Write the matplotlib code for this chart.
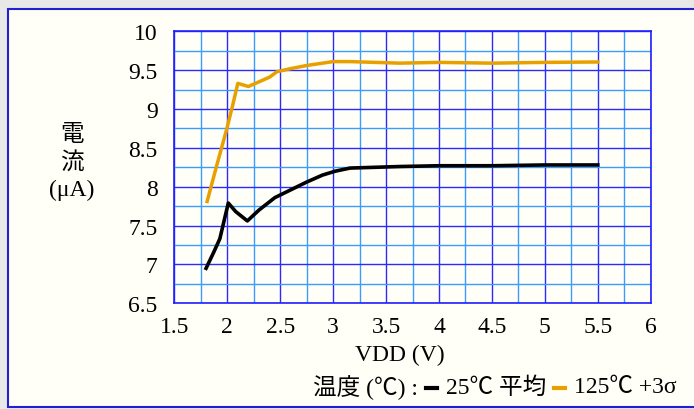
import matplotlib
matplotlib.use("Agg")
import matplotlib.pyplot as plt
from matplotlib.patches import Rectangle
from matplotlib.lines import Line2D
from matplotlib.offsetbox import TextArea, DrawingArea, HPacker, AnchoredOffsetbox

plt.rcParams['font.family'] = ['Liberation Serif', 'Noto Sans CJK JP', 'DejaVu Sans']

# data
vdd_25 = [1.80, 1.87, 1.93, 2.01, 2.08, 2.19, 2.30, 2.45, 2.60, 2.75, 2.90, 3.02, 3.16, 3.63, 4.00, 4.50, 5.00, 5.50]
cur_25 = [6.95, 7.15, 7.33, 7.79, 7.68, 7.56, 7.70, 7.86, 7.96, 8.06, 8.15, 8.20, 8.24, 8.26, 8.27, 8.27, 8.28, 8.28]
vdd_125 = [1.81, 1.90, 1.995, 2.05, 2.10, 2.15, 2.20, 2.30, 2.40, 2.47, 2.60, 2.75, 3.00, 3.16, 3.63, 4.00, 4.50, 5.00, 5.50]
cur_125 = [7.81, 8.27, 8.74, 9.04, 9.33, 9.31, 9.29, 9.35, 9.41, 9.48, 9.52, 9.56, 9.61, 9.61, 9.59, 9.60, 9.59, 9.60, 9.605]

x_ticks = [1.5, 2, 2.5, 3, 3.5, 4, 4.5, 5, 5.5, 6]
y_ticks = [6.5, 7, 7.5, 8, 8.5, 9, 9.5, 10]
x_labels = ['1.5', '2', '2.5', '3', '3.5', '4', '4.5', '5', '5.5', '6']
y_labels = ['6.5', '7', '7.5', '8', '8.5', '9', '9.5', '10']

bg = '#fffff8'
fig = plt.figure(figsize=(6.94, 4.10), dpi=100, facecolor='#e8e8e8')
fig.patches.append(Rectangle((8 / 694, 2 / 410), 1.0, 398 / 410, transform=fig.transFigure,
                             facecolor=bg, edgecolor='#2020d0', linewidth=1.5, zorder=0))

ax = fig.add_axes([174.3 / 694, 105.7 / 410, 476.4 / 694, 272.0 / 410], zorder=2)
ax.set_facecolor(bg)

ax.plot(vdd_125, cur_125, color='#e8a000', linewidth=2.5, zorder=3)
ax.plot(vdd_25, cur_25, color='black', linewidth=2.6, zorder=3)

ax.set_xlim(1.5, 6)
ax.set_ylim(6.5, 10)
ax.set_xticks(x_ticks)
ax.set_yticks(y_ticks)
ax.set_xticklabels(x_labels, fontsize=17)
ax.set_yticklabels(y_labels, fontsize=17)
ax.set_xticks([1.75 + 0.5 * i for i in range(9)], minor=True)
ax.set_yticks([6.75 + 0.5 * i for i in range(7)], minor=True)
ax.tick_params(which='both', length=0)
ax.tick_params(axis='x', pad=9)
ax.tick_params(axis='y', pad=12)
ax.grid(which='major', color='#2a2aff', linewidth=1.0)
ax.grid(which='minor', color='#3a9cff', linewidth=1.0)
ax.set_axisbelow(True)
for s in ax.spines.values():
    s.set_color('#2020ff')
    s.set_linewidth(1.2)

fig.text(72 / 694, 1 - 163 / 410, '電\n流\n(μA)', ha='center', va='center', fontsize=17, linespacing=1.35)
fig.text(400 / 694, 1 - 355 / 410, 'VDD (V)', ha='center', va='center', fontsize=17)

# legend row
def dash(color):
    da = DrawingArea(10, 14, 0, 0)
    da.add_artist(Line2D([1, 9], [6, 6], color=color, linewidth=3))
    return da

tp = dict(fontsize=17)
row = HPacker(children=[TextArea('温度 (℃) :', textprops=tp), dash('black'),
                        TextArea('25℃ 平均', textprops=tp), dash('#e8a000'),
                        TextArea('125℃ +3σ', textprops=tp)],
              align='center', pad=0, sep=5)
box = AnchoredOffsetbox(loc='center right', child=row, frameon=False,
                        bbox_to_anchor=(682 / 694, 1 - 388 / 410), bbox_transform=fig.transFigure, borderpad=0)
fig.add_artist(box)

fig.savefig('out.png', dpi=100, facecolor=fig.get_facecolor())
